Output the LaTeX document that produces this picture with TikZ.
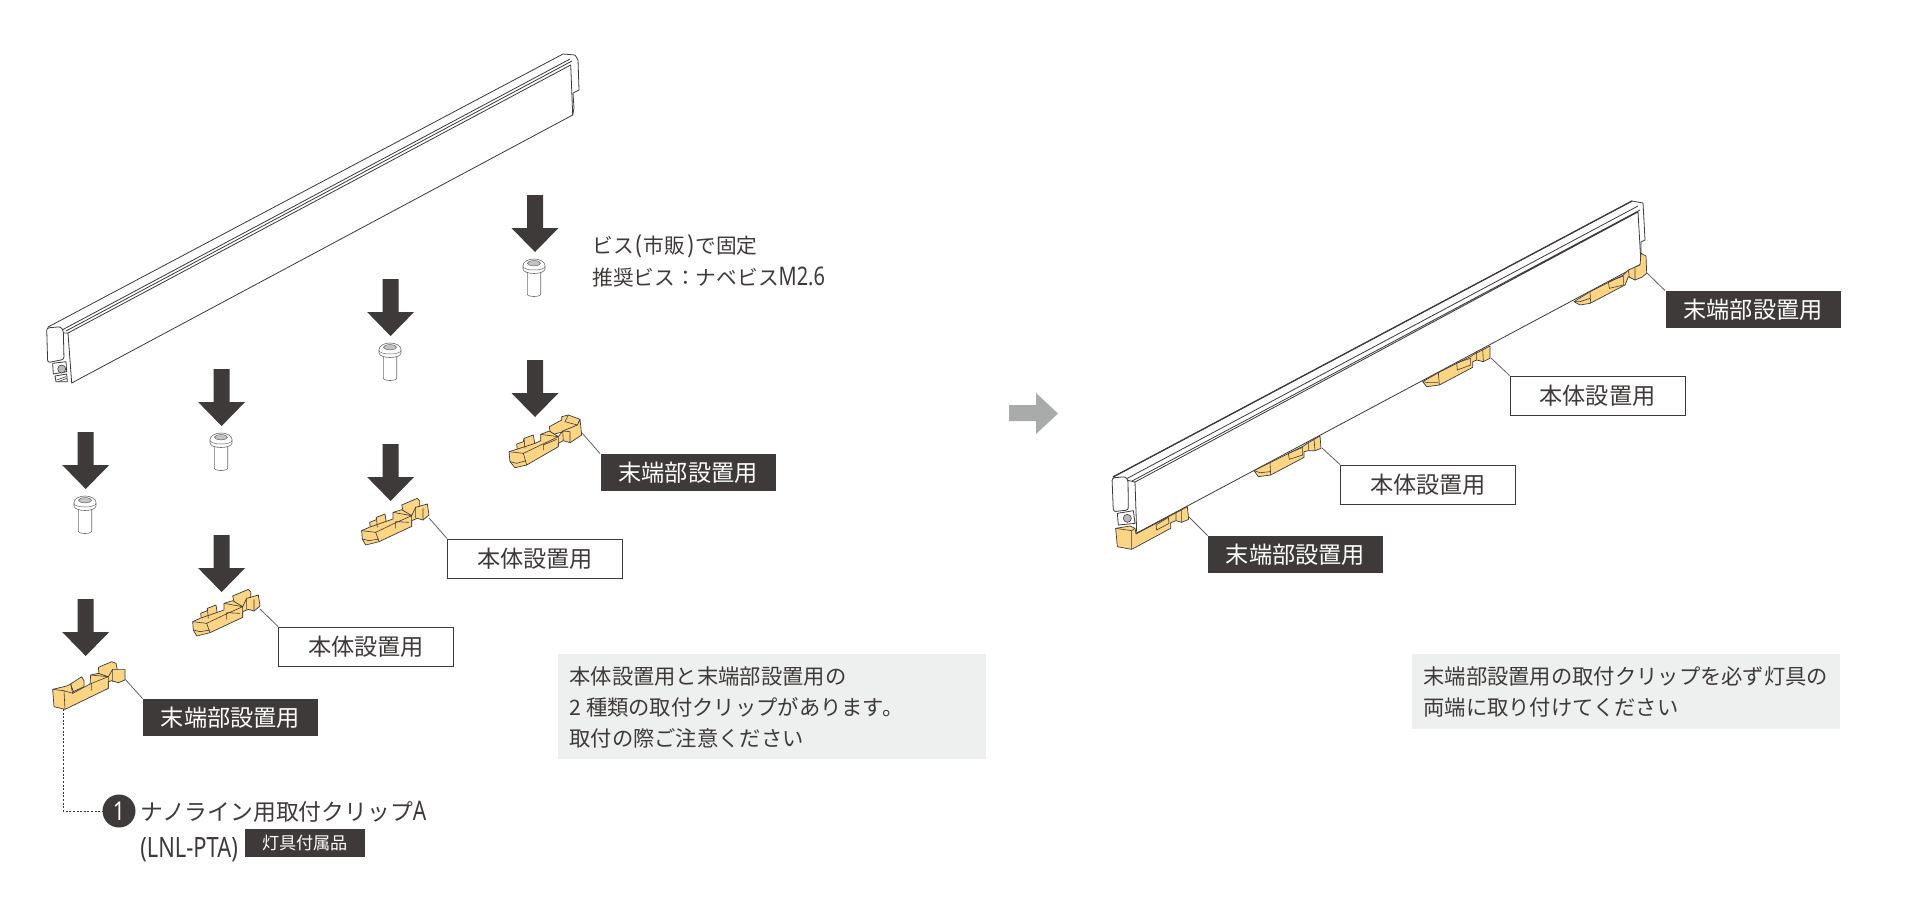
\documentclass[tikz,border=0pt]{standalone}
\usepackage{fontspec}
\setmainfont{Noto Sans CJK JP}
\newfontfamily\lat[FakeStretch=0.78]{Noto Sans}
\definecolor{ink}{HTML}{3E3A39}
\definecolor{clipc}{HTML}{FBD584}
\definecolor{panel}{HTML}{EEF0EF}
\definecolor{midgray}{HTML}{A9ABAA}
\newcommand{\fsz}[1]{\fontsize{#1}{#1}\selectfont}
\tikzset{
  part/.style={fill=clipc,draw=ink,line width=.35pt,line join=round},
  inner/.style={draw=ink,line width=.3pt,line join=round},
  barline/.style={draw=ink,line width=.4pt,line join=round},
  whitepart/.style={fill=white,draw=ink,line width=.4pt,line join=round},
  leader/.style={draw=ink!80,line width=.4pt},
  darklabel/.style={fill=ink,text=white,minimum width=87.5pt,minimum height=18.5pt,inner sep=0pt,font=\fsz{11.6}},
  whitelabel/.style={fill=white,draw=ink,line width=.4pt,text=ink,minimum width=87.5pt,minimum height=19.5pt,inner sep=0pt,font=\fsz{11.6}},
  panelbox/.style={fill=panel,draw=none,inner sep=0pt},
  paneltext/.style={anchor=north west,align=left,inner sep=0pt,text=ink,font=\fontsize{10.65}{15.6}\selectfont},
  clipA/.pic={\begin{scope}[scale=1/3]
    \path[part] (92,72)--(125,50)--(132,62)--(132,80)--(100,95)--cycle;
    \path[part] (175,22)--(215,5)--(228,10)--(232,30)--(215,62)--(178,50)--cycle;
    \path[part] (38,88)--(80,78)--(92,72)--(98,100)--(150,72)--(152,45)--(175,40)--(205,50)--(218,28)--(255,28)--(255,60)--(235,68)--(215,62)--(205,65)--(205,85)--(75,148)--(42,140)--cycle;
    \path[inner] (38,88)--(72,92)--(75,148) (72,92)--(98,100) (152,45)--(205,50)--(205,85) (150,72)--(205,50) (155,92)--(155,70) (218,28)--(218,65);
  \end{scope}},
  clipB/.pic={\begin{scope}[scale=1/3]
    \path[part] (62,100)--(82,92)--(82,85)--(108,75)--(112,100)--(85,125)--(65,125)--cycle;
    \path[part] (158,48)--(205,28)--(212,35)--(212,60)--(200,88)--(165,75)--cycle;
    \path[part] (38,125)--(60,115)--(112,97)--(132,90)--(132,70)--(158,62)--(188,80)--(200,55)--(235,45)--(240,78)--(222,93)--(205,88)--(188,95)--(188,112)--(90,158)--(50,168)--(40,150)--cycle;
    \path[inner] (38,125)--(80,130)--(90,158) (80,130)--(132,105)--(188,80) (132,70)--(188,80)--(188,112) (140,118)--(140,98)--(180,100) (200,55)--(200,88) (222,58)--(222,93) (40,150)--(60,155)--(90,150) (82,85)--(85,115);
  \end{scope}},
  clipC/.pic={\begin{scope}[scale=1/3]
    \path[part] (50,132)--(70,125)--(72,115)--(100,105)--(105,135)--(75,155)--(52,150)--cycle;
    \path[part] (148,80)--(185,60)--(185,50)--(205,45)--(240,58)--(232,80)--(190,95)--(152,105)--cycle;
    \path[part] (27,155)--(50,148)--(105,130)--(122,122)--(122,103)--(148,93)--(175,110)--(188,93)--(232,75)--(240,58)--(245,105)--(210,128)--(190,122)--(175,130)--(175,140)--(80,195)--(45,203)--(30,185)--cycle;
    \path[inner] (27,155)--(70,160)--(80,195) (70,160)--(175,110) (122,103)--(175,110)--(175,140) (130,150)--(130,135)--(170,118) (188,93)--(190,122) (210,95)--(210,128) (188,93)--(210,95) (205,45)--(195,65)--(232,75) (30,185)--(50,190)--(78,182) (72,115)--(75,145);
  \end{scope}},
  downarrow/.pic={\path[fill=ink] (-8,0)--(8,0)--(8,33)--(23.5,33)--(0,57)--(-23.5,33)--(-8,33)--cycle;},
  screw/.pic={
    \path[whitepart,line width=.3pt,draw=ink!75] (-6.7,12)--(-6.7,35) arc[start angle=180,end angle=0,x radius=6.7,y radius=2.5]--(6.7,12);
    \path[whitepart,line width=.3pt,draw=ink!75] (-11,6.5) arc[start angle=180,end angle=360,x radius=11,y radius=6.5]--(11,10) arc[start angle=0,end angle=180,x radius=11,y radius=4.5]--cycle;
    \path[fill=ink!30,draw=ink!80,line width=.25pt] (0,4.2) ellipse[x radius=6.5,y radius=2.6];
    \path[draw=ink!75,line width=.25pt] (-11,7.5) arc[start angle=180,end angle=0,x radius=11,y radius=3.5];
  },
}
\begin{document}
\begin{tikzpicture}[x=0.5pt,y=-0.5pt]
\path[use as bounding box,fill=white] (0,0) rectangle (1920,907);

% left bar
\path[whitepart] (48,327)--(563,54)--(575,55)--(578,60)--(579,90)--(573,93)--(574,108)--(572.7,115)--(71.7,383)--(68,333)--(63,333)--(48,330)--cycle;
\path[barline] (62,330)--(570,59) (66,331)--(572,61) (68,333)--(570.7,65)--(572.7,115);
\begin{scope}[shift={(30,300)},scale=1/3]
  \path[whitepart,rounded corners=1.2pt] (50,84)--(92,80)--(100,92)--(102,178)--(53,188)--cycle;
  \path[whitepart] (68,190)--(70,222)--(110,215)--(108,185)--cycle;
  \path[fill=ink!35,draw=ink,line width=.3pt] (95,207) circle[radius=12];
  \path[whitepart] (75,228)--(78,245)--(112,245)--(110,222)--cycle;
  \path[inner] (80,240)--(108,230) (85,245)--(110,235);
\end{scope}

% screws and arrows, left group
\pic at (85.7,432) {downarrow};
\pic at (221.6,369) {downarrow};
\pic at (390.6,279) {downarrow};
\pic at (535,195) {downarrow};
\pic at (85.7,599) {downarrow};
\pic at (221.6,535) {downarrow};
\pic at (390.6,444) {downarrow};
\pic at (535,360) {downarrow};
\pic at (85,496) {screw};
\pic at (221,433) {screw};
\pic at (390,343) {screw};
\pic at (534,259) {screw};

% clips
\pic at (40,660) {clipA};
\pic at (180,580) {clipB};
\pic at (349,489) {clipB};
\pic at (500,400) {clipC};

% labels, left
\node[darklabel] (lab1) at (230.5,717.5) {末端部設置用};
\node[darklabel] (lab2) at (688,472.5) {末端部設置用};
\node[whitelabel] (w1) at (366,646.5) {本体設置用};
\node[whitelabel] (w2) at (535,558.5) {本体設置用};
\coordinate (c1) at (125,679);
\coordinate (c2) at (260,609);
\coordinate (c3) at (429,518);
\coordinate (c4) at (582,433);
\path[leader] (c1)--(lab1.north west);
\path[leader] (c2)--(w1.north west);
\path[leader] (c3)--(w2.north west);
\path[leader] (c4)--(lab2.north west);

% screw note
\node[anchor=west,inner sep=0pt,text=ink,font=\fsz{10.35}] (note1) at (592,246) {ビス\kern1pt{\lat\fsz{13}(}\kern1pt 市販\kern1pt{\lat\fsz{13})}\kern1pt で固定};
\node[anchor=west,inner sep=0pt,text=ink,font=\fsz{10.35}] (note2) at (592,277) {推奨ビス：ナベビス{\lat\fsz{12.8}M2.6}};

% part reference
\node[circle,fill=ink,text=white,minimum size=16.5pt,inner sep=0pt,font=\lat\fsz{13}] (num) at (119,811) {1};
\coordinate (d1) at (63.3,709);
\path[draw=ink,line width=.4pt,dash pattern=on 1pt off .8pt] (d1) |- (num);
\node[anchor=west,inner sep=0pt,text=ink,font=\fsz{11.4}] (part) at (140,812) {ナノライン用取付クリップ{\lat\fsz{13.5}A}};
\node[anchor=west,inner sep=0pt,text=ink,font=\lat\fsz{14}] (code) at (140,850) {(LNL-PTA)};
\node[fill=ink,text=white,minimum width=60pt,minimum height=14pt,inner sep=0pt,font=\fsz{8.6}] (badge) at (305,843) {灯具付属品};

% panels
\node[panelbox,minimum width=214pt,minimum height=52.5pt] (p1) at (772,706.5) {};
\node[paneltext] (p1t) at (569,666) {本体設置用と末端部設置用の\\2 種類の取付クリップがあります。\\取付の際ご注意ください};
\node[panelbox,minimum width=214pt,minimum height=37.5pt] (p2) at (1626,691.5) {};
\node[paneltext] (p2t) at (1423,666) {末端部設置用の取付クリップを必ず灯具の\\両端に取り付けてください};

% grey arrow
\path[fill=midgray] (1009,405)--(1036,405)--(1036,393)--(1058,413.5)--(1036,434)--(1036,421)--(1009,421)--cycle;

% right bar
\path[whitepart] (1113,477)--(1632,201)--(1643,203)--(1645,240)--(1641,242)--(1641,264)--(1136.7,533)--(1135,482)--cycle;
\path[barline,line width=.65pt] (1113,477)--(1632,201);
\path[barline] (1126,479)--(1638,206) (1132,481)--(1640,210) (1135,482)--(1638,212)--(1641,264);

% mounted clips
\begin{scope}[shift={(1100,460)},scale=1/3]
  \path[part] (47,205)--(90,198)--(105,205)--(108,222)--(262,140)--(266,178)--(245,187)--(228,182)--(212,188)--(212,205)--(95,268)--(52,260)--cycle;
  \path[inner] (47,205)--(95,212)--(95,268) (95,212)--(105,205) (168,195)--(205,172)--(207,190)--(170,210)--cycle (228,155)--(228,182) (245,150)--(245,187);
\end{scope}
\begin{scope}[shift={(1240,420)},scale=1/3]
  \path[part] (42,152)--(90,128)--(190,78)--(205,68)--(240,48)--(243,85)--(225,92)--(205,92)--(192,95)--(192,112)--(92,165)--(55,170)--cycle;
  \path[inner] (90,128)--(92,165) (42,152)--(60,158)--(90,155) (145,100)--(188,82)--(188,105)--(148,118)--cycle (205,68)--(205,92) (222,58)--(225,92);
\end{scope}
\begin{scope}[shift={(1400,340)},scale=1/3]
  \path[part] (68,125)--(115,98)--(215,48)--(218,45)--(270,18)--(270,55)--(250,65)--(230,60)--(218,65)--(218,82)--(118,135)--(80,140)--cycle;
  \path[inner] (115,98)--(118,135) (68,125)--(85,128)--(115,128) (170,68)--(212,55)--(212,75)--(172,90)--cycle (230,35)--(230,60) (248,28)--(250,65);
\end{scope}
\begin{scope}[shift={(1560,190)},scale=1/3]
  \path[part] (42,335)--(90,305)--(190,255)--(205,240)--(240,225)--(243,190)--(258,198)--(260,250)--(245,262)--(225,270)--(205,260)--(195,285)--(90,340)--(60,345)--cycle;
  \path[inner] (90,305)--(92,340) (42,335)--(60,335)--(90,325) (145,275)--(190,258)--(190,285)--(148,295)--cycle (205,240)--(208,262) (225,235)--(225,270);
\end{scope}

% right bar end cap
\begin{scope}[shift={(1100,460)},scale=1/3]
  \path[whitepart,rounded corners=1.2pt] (36,54)--(76,50)--(84,60)--(85,150)--(40,155)--cycle;
  \path[whitepart] (52,160)--(55,195)--(105,190)--(100,152)--cycle;
  \path[fill=ink!35,draw=ink,line width=.3pt] (82,175) circle[radius=12];
\end{scope}

% labels, right
\node[darklabel] (lab3) at (1295.5,554.5) {末端部設置用};
\node[darklabel] (lab4) at (1753,309.5) {末端部設置用};
\node[whitelabel] (w3) at (1428,484.5) {本体設置用};
\node[whitelabel] (w4) at (1597.5,395.5) {本体設置用};
\coordinate (c5) at (1189,517);
\coordinate (c6) at (1322,448);
\coordinate (c7) at (1491,358);
\coordinate (c8) at (1647,273);
\path[leader] (c5)--(lab3.north west);
\path[leader] (c6)--(w3.north west);
\path[leader] (c7)--(w4.north west);
\path[leader] (c8)--(lab4.north west);
\end{tikzpicture}
\end{document}
